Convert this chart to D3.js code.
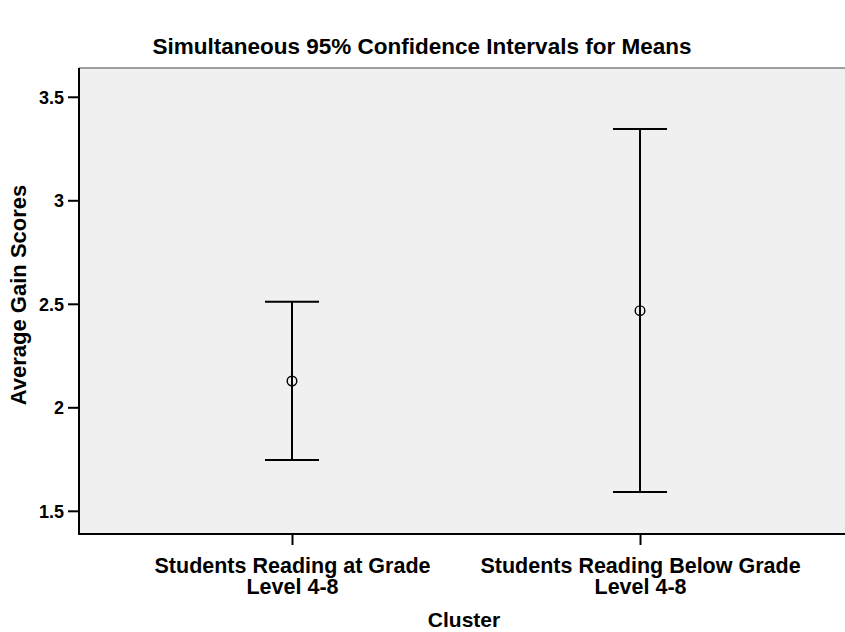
<!DOCTYPE html>
<html>
<head>
<meta charset="utf-8">
<script src="https://cdn.jsdelivr.net/npm/d3@7"></script>
<style>
  body { margin: 0; background: #fff; }
  text { font-family: "Liberation Sans", Arial, sans-serif; font-weight: bold; fill: #000; }
</style>
</head>
<body>
<div class="viz"></div>
<script>
const width = 845;
const height = 632;

// data
const clusters = ["Students Reading at Grade|Level 4-8", "Students Reading Below Grade|Level 4-8"];
const means = [2.127, 2.467];
const lower = [1.745, 1.591];
const upper = [2.510, 3.344];
const yTicks = [1.5, 2, 2.5, 3, 3.5];

const plot = { left: 79, right: 853, top: 68, bottom: 534 };

const svg = d3.select(".viz").append("svg")
  .attr("width", width)
  .attr("height", height);

const x = d3.scalePoint()
  .domain(clusters)
  .range([plot.left, plot.right])
  .padding(0.612);

// 2 sits at y≈407, 0.5 units ≈ 103.5px
const y = d3.scaleLinear()
  .domain([1.388, 3.639])
  .range([plot.bottom, plot.top]);

// plot background
svg.append("rect")
  .attr("x", plot.left)
  .attr("y", plot.top)
  .attr("width", plot.right - plot.left)
  .attr("height", plot.bottom - plot.top)
  .attr("fill", "#f0f0f0");

svg.append("line")
  .attr("x1", plot.left).attr("x2", plot.right)
  .attr("y1", plot.top).attr("y2", plot.top)
  .attr("stroke", "#808080")
  .attr("stroke-width", 1.5);

// axes
const yAxis = svg.append("g")
  .attr("transform", `translate(${plot.left},0)`)
  .call(d3.axisLeft(y).tickValues(yTicks).tickSize(11).tickPadding(4).tickFormat(d3.format("")));

const xAxis = svg.append("g")
  .attr("transform", `translate(0,${plot.bottom})`)
  .call(d3.axisBottom(x).tickSize(11).tickFormat(""));

[yAxis, xAxis].forEach((g) => {
  g.select(".domain").attr("stroke", "#000").attr("stroke-width", 2);
  g.selectAll(".tick line").attr("stroke", "#000").attr("stroke-width", 2);
});
yAxis.selectAll(".tick text")
  .attr("font-size", 18)
  .attr("dy", "0.35em");
xAxis.select(".domain").attr("d", `M${plot.left},0H${plot.right}`);
yAxis.select(".domain").attr("d", `M0,${plot.top}V${plot.bottom + 1}`);

// category labels (two lines)
xAxis.selectAll(".tick")
  .selectAll("text.cat")
  .data((d) => d.split("|"))
  .join("text")
  .attr("class", "cat")
  .attr("font-size", 21.5)
  .attr("text-anchor", "middle")
  .attr("x", 0)
  .attr("y", (d, i) => 39 + i * 21)
  .text((d) => d);

// error bars
const bars = svg.append("g").attr("class", "bars")
  .selectAll("g")
  .data(clusters.map((c, i) => ({ c, mean: means[i], lo: lower[i], hi: upper[i] })))
  .join("g")
  .attr("transform", (d) => `translate(${x(d.c)},0)`);

bars.append("line")
  .attr("y1", (d) => y(d.lo))
  .attr("y2", (d) => y(d.hi))
  .attr("stroke", "#000")
  .attr("stroke-width", 2);

bars.selectAll("line.cap")
  .data((d) => [d.lo, d.hi])
  .join("line")
  .attr("class", "cap")
  .attr("x1", -27).attr("x2", 27)
  .attr("y1", (v) => y(v))
  .attr("y2", (v) => y(v))
  .attr("stroke", "#000")
  .attr("stroke-width", 2);

bars.append("circle")
  .attr("cy", (d) => y(d.mean))
  .attr("r", 4.8)
  .attr("fill", "none")
  .attr("stroke", "#000")
  .attr("stroke-width", 1.4);

// titles
svg.append("text")
  .attr("x", 422)
  .attr("y", 54)
  .attr("text-anchor", "middle")
  .attr("font-size", 22.5)
  .text("Simultaneous 95% Confidence Intervals for Means");

svg.append("text")
  .attr("x", 464)
  .attr("y", 627)
  .attr("text-anchor", "middle")
  .attr("font-size", 21)
  .text("Cluster");

svg.append("text")
  .attr("transform", "translate(26,295) rotate(-90)")
  .attr("text-anchor", "middle")
  .attr("font-size", 22)
  .text("Average Gain Scores");
</script>
</body>
</html>
